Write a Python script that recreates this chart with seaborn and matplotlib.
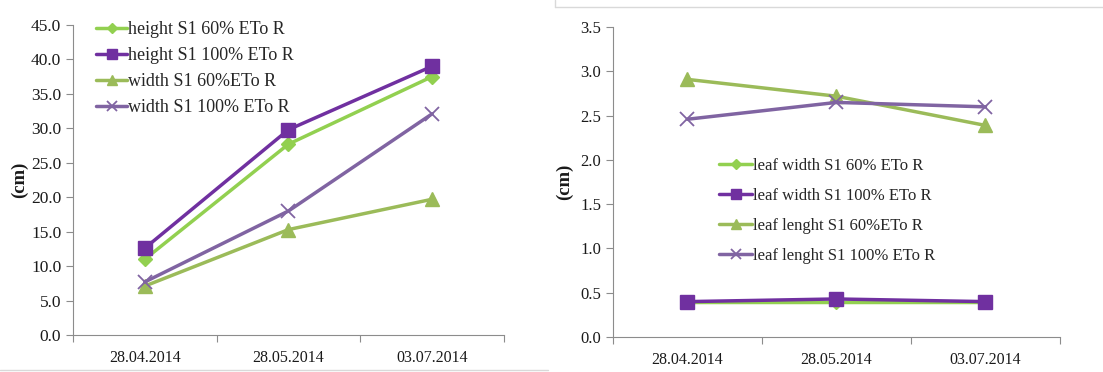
import matplotlib
matplotlib.use("Agg")
import matplotlib.pyplot as plt
import matplotlib.lines as mlines
import seaborn as sns
import pandas as pd

# Sampling dates
dates = ["28.04.2014", "28.05.2014", "03.07.2014"]

# Plant height / width (cm)
height_60 = [11.0, 27.7, 37.5]
height_100 = [12.6, 29.8, 39.0]
width_60 = [7.1, 15.3, 19.7]
width_100 = [7.7, 18.0, 32.1]

# Leaf width / length (cm)
leaf_width_60 = [0.40, 0.40, 0.40]
leaf_width_100 = [0.40, 0.43, 0.40]
leaf_length_60 = [2.91, 2.72, 2.39]
leaf_length_100 = [2.46, 2.65, 2.60]

left_labels = ["height S1 60% ETo R", "height S1 100% ETo R",
               "width S1 60%ETo R", "width S1 100% ETo R"]
right_labels = ["leaf width S1 60% ETo R", "leaf width S1 100% ETo R",
                "leaf lenght S1 60%ETo R", "leaf lenght S1 100% ETo R"]

sns.set_theme(style="white")
plt.rcParams["font.family"] = ["Liberation Serif", "DejaVu Serif"]

# colour, marker, marker size, marker edge width
styles = [
    ("#92D050", "D", 7, 1.0),
    ("#7030A0", "s", 10, 1.0),
    ("#9BBB59", "^", 10, 1.0),
    ("#8064A2", "x", 10, 1.3),
]

fig = plt.figure(figsize=(11.03, 3.72), dpi=100)
ax1 = fig.add_axes([0.0662, 0.0995, 0.3907, 0.8335])
ax2 = fig.add_axes([0.5557, 0.094, 0.4053, 0.833])


def draw(ax, series, labels, ymax, yticks, ysize):
    for vals, lab, (col, mk, ms, mew) in zip(series, labels, styles):
        df = pd.DataFrame({"date": dates, "value": vals})
        sns.lineplot(data=df, x="date", y="value", ax=ax, color=col,
                     marker=mk, markersize=ms, markeredgecolor=col,
                     markeredgewidth=mew, linewidth=2.5, sort=False,
                     label=lab)
    ax.set_xlim(-0.5, 2.5)
    ax.set_ylim(0, ymax)
    ax.set_yticks(yticks)
    ax.set_yticklabels([f"{t:.1f}" for t in yticks])
    ax.set_xticks([-0.5, 0.5, 1.5, 2.5])
    ax.set_xticklabels([])
    ax.set_xticks([0, 1, 2], minor=True)
    ax.set_xticklabels(dates, minor=True)
    ax.tick_params(axis="x", which="major", length=5, width=0.8,
                   color="#8c8c8c", direction="out", bottom=True)
    ax.tick_params(axis="x", which="minor", length=0, pad=11,
                   labelsize=11.5, colors="#1a1a1a")
    ax.tick_params(axis="y", length=5, width=0.8, color="#8c8c8c",
                   direction="out", left=True, labelsize=ysize,
                   labelcolor="#1a1a1a")
    for s in ["top", "right"]:
        ax.spines[s].set_visible(False)
    for s in ["left", "bottom"]:
        ax.spines[s].set_color("#8c8c8c")
        ax.spines[s].set_linewidth(0.8)
    ax.set_xlabel("")
    ax.set_ylabel("(cm)", fontsize=13.5, fontweight="bold", color="#1a1a1a")


draw(ax1, [height_60, height_100, width_60, width_100], left_labels,
     45, [0, 5, 10, 15, 20, 25, 30, 35, 40, 45], 12.5)
draw(ax2, [leaf_width_60, leaf_width_100, leaf_length_60, leaf_length_100],
     right_labels, 3.5, [0, 0.5, 1.0, 1.5, 2.0, 2.5, 3.0, 3.5], 12)

ax1.yaxis.set_label_coords(-0.105, 0.5)
ax2.yaxis.set_label_coords(-0.09, 0.5)


def legend_handles():
    hs = []
    for col, mk, ms, mew in styles:
        hs.append(mlines.Line2D([], [], color=col, linewidth=2.5, marker=mk,
                                markersize=ms * 0.75, markeredgecolor=col,
                                markeredgewidth=mew))
    return hs


ax1.legend(legend_handles(), left_labels, loc="upper left",
           bbox_to_anchor=(0.036, 1.035), frameon=False, fontsize=13,
           handlelength=1.75, handletextpad=0.05, labelspacing=0.5,
           borderaxespad=0)
ax2.legend(legend_handles(), right_labels, loc="upper left",
           bbox_to_anchor=(0.222, 0.6), frameon=False, fontsize=12,
           handlelength=2.0, handletextpad=0.05, labelspacing=0.85,
           borderaxespad=0)

# Thin frame edges of the two chart boxes
fig.add_artist(mlines.Line2D([0.0, 0.497], [0.005, 0.005], color="#d9d9d9",
                             linewidth=1, transform=fig.transFigure))
fig.add_artist(mlines.Line2D([0.503, 1.0], [0.982, 0.982], color="#d9d9d9",
                             linewidth=1, transform=fig.transFigure))
fig.add_artist(mlines.Line2D([0.503, 0.503], [0.982, 1.0], color="#d9d9d9",
                             linewidth=1, transform=fig.transFigure))

fig.savefig("out.png", dpi=100)
